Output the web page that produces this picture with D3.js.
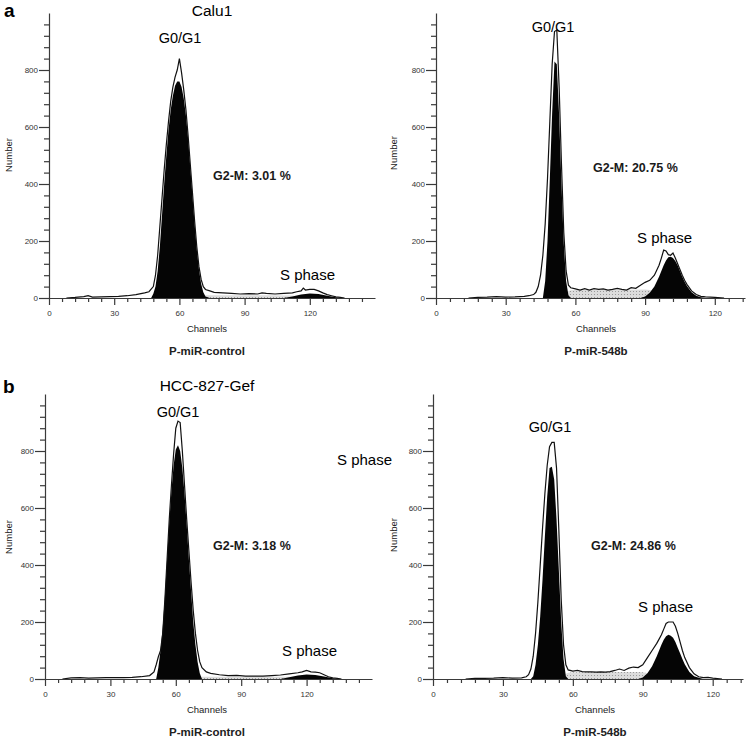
<!DOCTYPE html>
<html>
<head>
<meta charset="utf-8">
<script src="https://cdn.jsdelivr.net/npm/d3@7"></script>
<style>
body { margin: 0; background: #fff; }
svg { display: block; font-family: "Liberation Sans", Arial, sans-serif; }
.tick text { font-size: 8px; fill: #333; }
.domain, .tick line { stroke: #3a3a3a; stroke-width: 1.2; }
</style>
</head>
<body>
<div id="chart"></div>
<script>
// ---- DATA: [channel, count] ----

// a, Calu1, P-miR-control
var calu1CtrlRaw = [[8,0],[12,2],[16,5],[18,8],[20,3],[24,4],[28,5],[32,6],[36,8],[40,12],[44,18],[46,22],[48,40],[49,80],[50,150],[51,250],[52,350],[53,450],[54,540],[55,620],[56,690],[57,740],[58,775],[59,800],[60,840],[61,790],[62,730],[63,660],[64,570],[65,470],[66,370],[67,270],[68,180],[69,110],[70,65],[71,40],[72,30],[74,25],[76,20],[80,18],[84,16],[88,14],[92,15],[96,14],[98,18],[100,16],[104,14],[108,16],[112,18],[114,22],[116,25],[117,35],[118,28],[120,30],[122,30],[124,25],[126,18],[128,12],[130,8],[132,4],[134,2],[136,0]];
var calu1CtrlG1 = [[47,0],[48,15],[49,40],[50,95],[51,180],[52,290],[53,400],[54,500],[55,590],[56,660],[57,710],[58,745],[59,760],[60,760],[61,740],[62,700],[63,640],[64,560],[65,460],[66,360],[67,260],[68,170],[69,100],[70,50],[71,20],[72,5],[74,0]];
var calu1CtrlS = [[50,0],[55,6],[60,9],[70,10],[80,10],[90,10],[100,10],[110,9],[116,7],[122,4],[128,1],[132,0]];
var calu1CtrlG2 = [[108,0],[112,5],[116,12],[120,16],[124,14],[128,8],[132,3],[134,0]];

// a, Calu1, P-miR-548b
var calu1MirRaw = [[14,0],[18,2],[22,3],[26,5],[30,3],[34,4],[38,6],[40,8],[42,12],[43,20],[44,40],[45,80],[46,150],[47,260],[48,420],[49,620],[50,820],[51,935],[52,940],[53,740],[54,470],[55,230],[56,95],[57,45],[58,36],[60,32],[62,28],[64,33],[66,28],[68,33],[70,30],[72,32],[74,28],[76,30],[78,34],[80,30],[82,28],[84,36],[86,34],[88,45],[90,55],[92,62],[94,80],[96,115],[97,140],[98,168],[99,165],[100,152],[101,150],[102,158],[103,140],[104,120],[105,100],[106,80],[107,62],[108,48],[110,25],[112,12],[114,6],[116,4],[120,2],[124,0]];
var calu1MirG1 = [[46,0],[47,60],[48,200],[49,420],[50,650],[51,830],[52,820],[53,640],[54,400],[55,190],[56,60],[57,10],[58,0]];
var calu1MirS = [[54,0],[56,20],[58,27],[60,28],[70,28],[80,29],[90,30],[92,28],[96,20],[100,12],[104,5],[108,0]];
var calu1MirG2 = [[88,0],[90,5],[92,18],[94,40],[96,75],[97,95],[98,115],[99,132],[100,143],[101,145],[102,140],[103,130],[104,115],[105,95],[106,75],[107,57],[108,42],[110,20],[112,8],[114,3],[116,0]];

// b, HCC-827-Gef, P-miR-control
var hccCtrlRaw = [[8,0],[12,4],[16,5],[20,3],[24,4],[28,5],[32,5],[36,5],[40,6],[44,8],[48,12],[50,25],[51,50],[52,78],[53,100],[54,160],[55,280],[56,420],[57,560],[58,680],[59,790],[60,880],[61,905],[62,900],[63,800],[64,680],[65,560],[66,450],[67,340],[68,240],[69,160],[70,100],[71,60],[72,40],[74,25],[76,20],[80,15],[84,12],[88,13],[92,10],[96,10],[100,10],[104,12],[108,14],[112,18],[116,22],[118,25],[120,30],[122,25],[124,24],[126,22],[128,15],[130,8],[132,4],[134,2],[136,0]];
var hccCtrlG1 = [[51,0],[52,40],[53,100],[54,180],[55,290],[56,420],[57,550],[58,660],[59,750],[60,805],[61,820],[62,800],[63,740],[64,650],[65,540],[66,420],[67,310],[68,200],[69,120],[70,60],[71,20],[72,0]];
var hccCtrlS = [[52,0],[58,6],[66,8],[80,8],[100,8],[112,8],[118,6],[124,3],[130,0]];
var hccCtrlG2 = [[108,0],[112,6],[116,12],[120,16],[124,14],[128,9],[132,3],[134,0]];

// b, HCC-827-Gef, P-miR-548b
var hccMirRaw = [[14,0],[18,2],[22,2],[26,3],[30,5],[34,3],[38,4],[40,8],[41,15],[42,35],[43,80],[44,160],[45,270],[46,400],[47,530],[48,650],[49,750],[50,815],[51,830],[52,830],[53,740],[54,520],[55,280],[56,120],[57,50],[58,32],[60,28],[62,30],[64,26],[66,25],[68,25],[70,24],[72,25],[74,24],[76,26],[78,30],[80,35],[82,30],[84,38],[86,42],[88,40],[90,50],[92,75],[94,100],[96,125],[97,140],[98,155],[99,175],[100,195],[101,200],[102,200],[103,200],[104,185],[105,160],[106,130],[107,100],[108,75],[110,40],[112,18],[114,8],[116,5],[118,6],[120,3],[124,0]];
var hccMirG1 = [[42,0],[43,10],[44,50],[45,120],[46,220],[47,350],[48,500],[49,640],[50,740],[51,745],[52,700],[53,560],[54,380],[55,200],[56,70],[57,10],[58,0]];
var hccMirS = [[54,0],[56,15],[58,22],[60,24],[70,25],[80,25],[88,25],[90,24],[92,20],[96,12],[100,6],[104,2],[108,0]];
var hccMirG2 = [[88,0],[90,5],[92,20],[94,45],[96,80],[97,100],[98,120],[99,138],[100,150],[101,155],[102,152],[103,145],[104,130],[105,110],[106,90],[107,70],[108,52],[110,25],[112,10],[114,4],[116,0]];

var g2mLabels = ["G2-M: 3.01 %", "G2-M: 20.75 %", "G2-M: 3.18 %", "G2-M: 24.86 %"];
var sampleLabels = ["P-miR-control", "P-miR-548b"];
var yTicks = d3.range(0, 1000, 40);

var svg = d3.select("#chart").append("svg")
	.attr("width", 752)
	.attr("height", 739);

// hatched fill for the S phase model
var pat = svg.append("defs").append("pattern")
	.attr("id", "hatch")
	.attr("width", 3).attr("height", 3)
	.attr("patternUnits", "userSpaceOnUse");
pat.append("rect").attr("width", 3).attr("height", 3).attr("fill", "#dcdcdc");
pat.append("rect").attr("width", 1).attr("height", 1).attr("fill", "#9a9a9a");

var panels = [
	{ raw: calu1CtrlRaw, g1: calu1CtrlG1, s: calu1CtrlS, g2: calu1CtrlG2, xMax: 150, x0: 49, x1: 375, y0: 298,
	  g2m: [g2mLabels[0], 213, 180], sph: [280, 280], g0: [180, 43], chan: 207, sample: sampleLabels[0], numX: 12, numY: 155 },
	{ raw: calu1MirRaw, g1: calu1MirG1, s: calu1MirS, g2: calu1MirG2, xMax: 133, x0: 436, x1: 745, y0: 298,
	  g2m: [g2mLabels[1], 593, 172], sph: [637, 243], g0: [553, 32], chan: 596, sample: sampleLabels[1], numX: 397, numY: 153 },
	{ raw: hccCtrlRaw, g1: hccCtrlG1, s: hccCtrlS, g2: hccCtrlG2, xMax: 150, x0: 45, x1: 372, y0: 679,
	  g2m: [g2mLabels[2], 213, 550], sph: [282, 656], g0: [178, 417], chan: 207, sample: sampleLabels[0], numX: 12, numY: 537 },
	{ raw: hccMirRaw, g1: hccMirG1, s: hccMirS, g2: hccMirG2, xMax: 133, x0: 433, x1: 743, y0: 679,
	  g2m: [g2mLabels[3], 591, 550], sph: [638, 612], g0: [550, 432], chan: 595, sample: sampleLabels[1], numX: 397, numY: 535 }
];

function drawPanel(p) {
	var x = d3.scaleLinear().domain([0, p.xMax]).range([p.x0, p.x1]);
	var y = d3.scaleLinear().domain([0, 1000]).range([p.y0, p.y0 - 285]);
	var g = svg.append("g");

	var area = d3.area()
		.x(function(d) { return x(d[0]); })
		.y0(y(0))
		.y1(function(d) { return y(d[1]); });

	var line = d3.line()
		.x(function(d) { return x(d[0]); })
		.y(function(d) { return y(d[1]); });

	g.append("path").datum(p.s).attr("d", area).attr("fill", "url(#hatch)");
	g.append("path").datum(p.g1).attr("d", area).attr("fill", "#050505");
	g.append("path").datum(p.g2).attr("d", area).attr("fill", "#050505");
	g.append("path").datum(p.raw).attr("d", line)
		.attr("fill", "none").attr("stroke", "#111").attr("stroke-width", 1.2);

	//axes - minor ticks every 40 / 6, labelled majors
	var yAxis = d3.axisLeft(y).tickValues(yTicks).tickSize(5).tickSizeOuter(0)
		.tickFormat(function(d) { return d % 200 === 0 ? d : ""; });
	var ya = g.append("g").attr("transform", "translate(" + p.x0 + ",0)").call(yAxis);
	ya.selectAll(".tick").filter(function(d) { return d % 200 === 0; })
		.select("line").attr("x2", -10);
	ya.selectAll(".tick text").attr("x", -11);

	var xAxis = d3.axisBottom(x).tickValues(d3.range(0, p.xMax, 6)).tickSize(4).tickSizeOuter(0)
		.tickFormat(function(d) { return d % 30 === 0 ? d : ""; });
	var xa = g.append("g").attr("transform", "translate(0," + p.y0 + ")").call(xAxis);
	xa.selectAll(".tick").filter(function(d) { return d % 30 === 0; })
		.select("line").attr("y2", 7);
	xa.selectAll(".tick text").attr("y", 12);

	//texts
	g.append("text").text("G0/G1").attr("x", p.g0[0]).attr("y", p.g0[1])
		.attr("text-anchor", "middle").attr("font-size", 14.5);
	g.append("text").text(p.g2m[0]).attr("x", p.g2m[1]).attr("y", p.g2m[2])
		.attr("font-size", 12.5).attr("font-weight", "bold").attr("fill", "#1a1a1a");
	g.append("text").text("S phase").attr("x", p.sph[0]).attr("y", p.sph[1])
		.attr("font-size", 15);
	g.append("text").text("Channels").attr("x", p.chan).attr("y", p.y0 + 34)
		.attr("text-anchor", "middle").attr("font-size", 9.5).attr("fill", "#222");
	g.append("text").text(p.sample).attr("x", p.chan).attr("y", p.y0 + 57)
		.attr("text-anchor", "middle").attr("font-size", 11.5).attr("font-weight", "bold").attr("fill", "#222");
	g.append("text").text("Number")
		.attr("transform", "translate(" + p.numX + "," + p.numY + ") rotate(-90)")
		.attr("text-anchor", "middle").attr("font-size", 9.5).attr("fill", "#222");
}

panels.forEach(drawPanel);

// figure letters and titles
svg.append("text").text("a").attr("x", 4).attr("y", 17).attr("font-size", 19).attr("font-weight", "bold");
svg.append("text").text("b").attr("x", 3).attr("y", 393).attr("font-size", 19).attr("font-weight", "bold");
svg.append("text").text("Calu1").attr("x", 212).attr("y", 16).attr("text-anchor", "middle").attr("font-size", 15.5);
svg.append("text").text("HCC-827-Gef").attr("x", 207).attr("y", 391).attr("text-anchor", "middle").attr("font-size", 15.5);
// stray label in the original figure
svg.append("text").text("S phase").attr("x", 337).attr("y", 465).attr("font-size", 15);
</script>
</body>
</html>
